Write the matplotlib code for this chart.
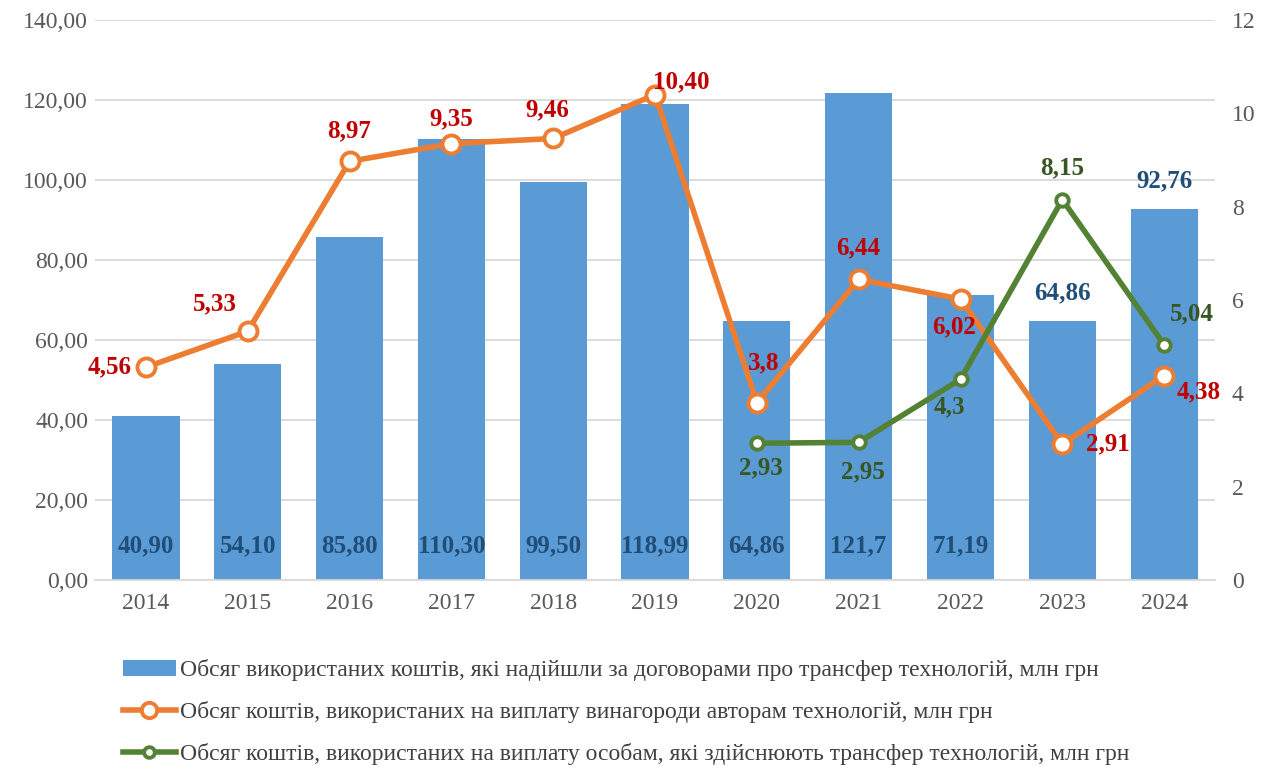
import matplotlib.pyplot as plt

plt.rcParams['font.family'] = ['Liberation Serif', 'DejaVu Serif']

years = ['2014', '2015', '2016', '2017', '2018', '2019', '2020', '2021', '2022', '2023', '2024']
funds = [40.90, 54.10, 85.80, 110.30, 99.50, 118.99, 64.86, 121.7, 71.19, 64.86, 92.76]
fund_labels = ['40,90', '54,10', '85,80', '110,30', '99,50', '118,99', '64,86', '121,7', '71,19', '64,86', '92,76']
authors = [4.56, 5.33, 8.97, 9.35, 9.46, 10.40, 3.8, 6.44, 6.02, 2.91, 4.38]
author_labels = ['4,56', '5,33', '8,97', '9,35', '9,46', '10,40', '3,8', '6,44', '6,02', '2,91', '4,38']
persons_years = ['2020', '2021', '2022', '2023', '2024']
persons = [2.93, 2.95, 4.3, 8.15, 5.04]
persons_labels = ['2,93', '2,95', '4,3', '8,15', '5,04']

left_ticks = [0, 20, 40, 60, 80, 100, 120, 140]
right_ticks = [0, 2, 4, 6, 8, 10, 12]

legend_names = [
    'Обсяг використаних коштів, які надійшли за договорами про трансфер технологій, млн грн',
    'Обсяг коштів, використаних на виплату винагороди авторам технологій, млн грн',
    'Обсяг коштів, використаних на виплату особам, які здійснюють трансфер технологій, млн грн',
]

fig = plt.figure(figsize=(12.75, 7.67), dpi=100)
ax = fig.add_axes([0.0745, 0.2438, 0.8785, 0.7302])
ax2 = ax.twinx()

x = list(range(len(years)))
px = [years.index(y) for y in persons_years]

# Bars on the left axis
bars = ax.bar(x, funds, width=0.66, color='#5B9BD5', zorder=2, label=legend_names[0])
for i, (v, lab) in enumerate(zip(funds, fund_labels)):
    if i < 9:
        ax.text(i, 8.5, lab, ha='center', va='center', fontsize=18, fontweight='bold', color='#1F4E79')
    else:
        ax.text(i, v + 7, lab, ha='center', va='center', fontsize=18, fontweight='bold', color='#1F4E79')

ax.set_ylim(0, 140)
ax.set_xlim(-0.5, 10.5)
ax.set_yticks(left_ticks)
ax.set_yticklabels(['%d,00' % t for t in left_ticks])
ax.set_xticks(x)
ax.set_xticklabels(years)
ax.yaxis.grid(True, color='#D9D9D9', linewidth=1.3, zorder=0)
ax.set_axisbelow(True)
for s in ['top', 'right', 'left']:
    ax.spines[s].set_visible(False)
ax.spines['bottom'].set_color('#D9D9D9')
ax.spines['bottom'].set_linewidth(1.3)
ax.tick_params(axis='y', length=0, labelsize=17, colors='#595959', pad=5)
ax.tick_params(axis='x', length=0, labelsize=17, colors='#595959', pad=9)

# Lines on the right axis
l1, = ax2.plot(x, authors, color='#ED7D31', linewidth=4, marker='o', markersize=13,
               markerfacecolor='white', markeredgecolor='#ED7D31', markeredgewidth=2.8,
               zorder=3, label=legend_names[1])
l2, = ax2.plot(px, persons, color='#548235', linewidth=4, marker='o', markersize=9,
               markerfacecolor='white', markeredgecolor='#548235', markeredgewidth=2.8,
               zorder=4, label=legend_names[2])

author_offsets = [(-26, 0), (-24, 20), (0, 22), (0, 18), (-4, 21), (19, 9), (5, 29),
                  (0, 23), (-5, -20), (33, 0), (25, -12)]
for i, (v, lab) in enumerate(zip(authors, author_labels)):
    dx, dy = author_offsets[i]
    ax2.annotate(lab, (i, v), xytext=(dx, dy), textcoords='offset points',
                 ha='center', va='center', fontsize=18, fontweight='bold', color='#C00000')

persons_offsets = [(3, -18), (3, -21), (-8, -20), (0, 23), (20, 22)]
for j, (v, lab) in enumerate(zip(persons, persons_labels)):
    dx, dy = persons_offsets[j]
    ax2.annotate(lab, (px[j], v), xytext=(dx, dy), textcoords='offset points',
                 ha='center', va='center', fontsize=18, fontweight='bold', color='#375623')

ax2.set_ylim(0, 12)
ax2.set_yticks(right_ticks)
for s in ['top', 'right', 'left', 'bottom']:
    ax2.spines[s].set_visible(False)
ax2.tick_params(axis='y', length=0, labelsize=17, colors='#595959', pad=12)

fig.legend(handles=[bars, l1, l2], loc='upper left', bbox_to_anchor=(0.0887, 0.153),
           frameon=False, fontsize=17, labelspacing=0.85, handlelength=2.25,
           handletextpad=0.2, labelcolor='#404040', borderaxespad=0, markerscale=0.85)

fig.savefig('out.png', dpi=100)
